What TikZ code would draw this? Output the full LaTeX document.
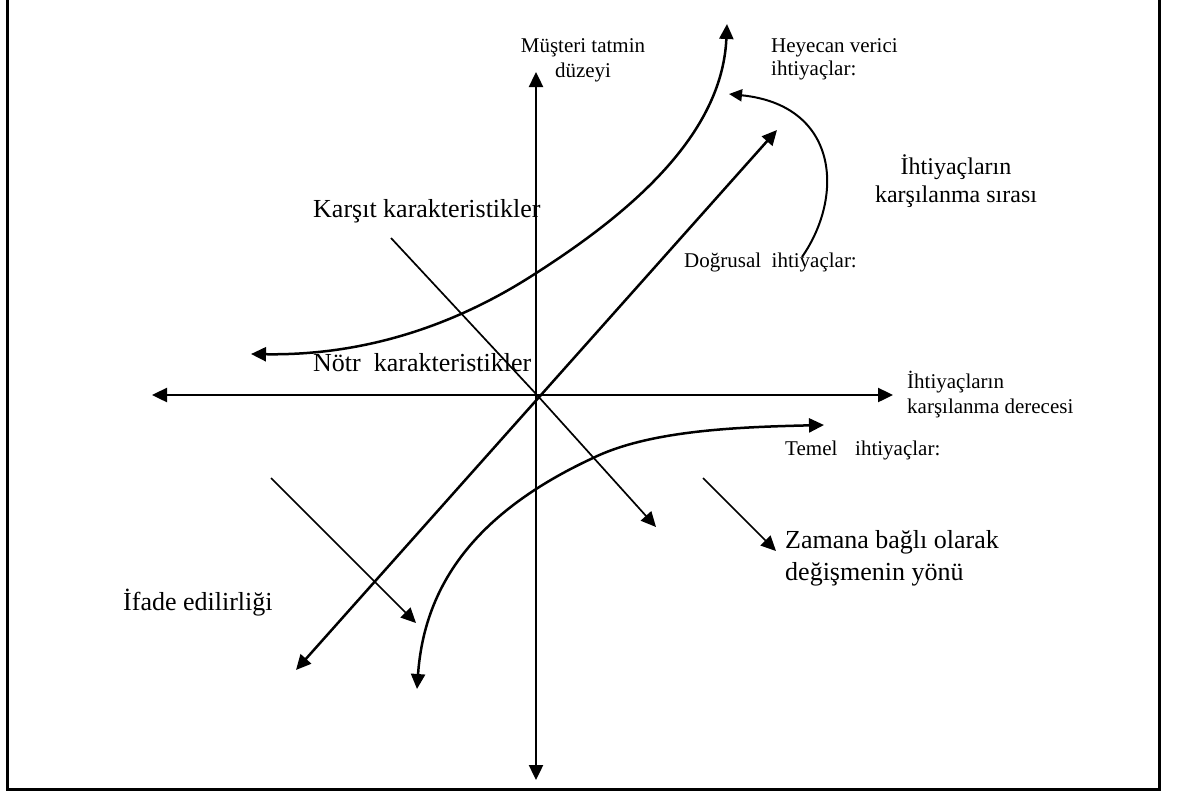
\documentclass[tikz,border=0pt]{standalone}
\usepackage{fontspec}
\setmainfont{Liberation Serif}
\usetikzlibrary{arrows.meta}
\tikzset{
  tip/.tip={Triangle[length=15pt,width=14pt]},
  smalltip/.tip={Triangle[length=13pt,width=12pt]},
  thickline/.style={line width=2.5pt},
  axisline/.style={line width=2.4pt},
  thinline/.style={line width=1.7pt},
  arcline/.style={line width=2pt},
  bigtxt/.style={inner sep=0pt,font=\fontsize{26}{30}\selectfont},
  midtxt/.style={inner sep=0pt,font=\fontsize{24}{28}\selectfont},
  smalltxt/.style={inner sep=0pt,font=\fontsize{21}{24}\selectfont},
  frame/.style={line width=2.7pt}
}
\begin{document}
\begin{tikzpicture}[x=1pt,y=-1pt]
\useasboundingbox (0,0) rectangle (1178,793);
\draw[frame] (7.3,-1.8) rectangle (1159.5,789.5);

% coordinates
\coordinate (O) at (537,395);
\coordinate (ytop) at (536,72);
\coordinate (ybot) at (536,780);
\coordinate (xleft) at (152,395);
\coordinate (xright) at (893,395);
\coordinate (dne) at (777,130);
\coordinate (dsw) at (296,670);
\coordinate (nstart) at (391,238);
\coordinate (nend) at (656,527);
\coordinate (a1s) at (271,478);
\coordinate (a1e) at (416,623);
\coordinate (a2s) at (703,478);
\coordinate (a2e) at (776,551);
\coordinate (ex1) at (251,354);
\coordinate (ex2) at (530,277);
\coordinate (ex3) at (727,24);
\coordinate (ba1) at (417,689);
\coordinate (ba2) at (593,458);
\coordinate (ba3) at (824,425);
\coordinate (or1) at (802,257);
\coordinate (or2) at (729,94);

% axes
\draw[axisline,tip-tip] (ybot) -- (ytop);
\draw[axisline,tip-tip] (xleft) -- (xright);
% linear needs diagonal
\draw[thickline,tip-tip] (dsw) -- (dne);
% neutral direction thin line
\draw[thinline,-tip] (nstart) -- (O) -- (nend);
% time direction arrows
\draw[thinline,-tip] (a1s) -- (a1e);
\draw[thinline,-tip] (a2s) -- (a2e);

% exciting needs curve
\draw[thickline,tip-tip] (ex1) .. controls (380,356) and (470,315) .. (ex2)
  .. controls (620,220) and (722,140) .. (ex3);

% basic needs curve
\draw[thickline,tip-tip] (ba1) .. controls (424,590) and (470,515) .. (ba2)
  .. controls (650,430) and (740,427) .. (ba3);

% order arc
\draw[arcline,-smalltip] (or1) .. controls (845,195) and (838,105) .. (or2);

% texts
\node[smalltxt,anchor=base] (t1a) at (583,52) {Müşteri tatmin};
\node[smalltxt,anchor=base] (t1b) at (583,77) {düzeyi};
\node[smalltxt,anchor=base west] (t2a) at (771,52) {Heyecan verici};
\node[smalltxt,anchor=base west] (t2b) at (771,75) {ihtiyaçlar:};
\node[midtxt,anchor=base] (t3a) at (956,174) {İhtiyaçların};
\node[midtxt,anchor=base] (t3b) at (956,202) {karşılanma sırası};
\node[bigtxt,anchor=base west] (t4) at (313,217) {Karşıt karakteristikler};
\node[smalltxt,anchor=base east] (t5) at (857,267) {Doğrusal\ \ ihtiyaçlar:};
\node[bigtxt,anchor=base west] (t6) at (313,371) {Nötr\ \ karakteristikler};
\node[smalltxt,anchor=base west] (t7a) at (907,388) {İhtiyaçların};
\node[smalltxt,anchor=base west] (t7b) at (907,413) {karşılanma derecesi};
\node[smalltxt,anchor=base west] (t8a) at (785,455) {Temel};
\node[smalltxt,anchor=base west] (t8b) at (855,455) {ihtiyaçlar:};
\node[bigtxt,anchor=base west] (t9a) at (785,548) {Zamana bağlı olarak};
\node[bigtxt,anchor=base west] (t9b) at (785,580) {değişmenin yönü};
\node[bigtxt,anchor=base west] (t10) at (123,610) {İfade edilirliği};
\end{tikzpicture}
\end{document}
